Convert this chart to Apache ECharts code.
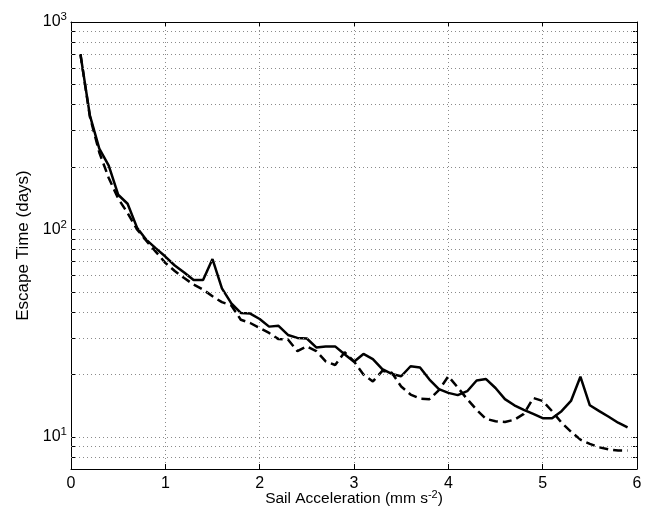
<!DOCTYPE html>
<html>
<head>
<meta charset="utf-8">
<script src="https://cdn.jsdelivr.net/npm/echarts@6/dist/echarts.min.js"></script>
<style>html,body{margin:0;padding:0;background:#fff;}#c{width:653px;height:521px;}</style>
</head>
<body>
<div id="c"></div>
<script>
const xValues = [0.1,0.2,0.3,0.4,0.5,0.6,0.7,0.8,0.9,1.0,
  1.1,1.2,1.3,1.4,1.5,1.6,1.7,1.8,1.9,2.0,
  2.1,2.2,2.3,2.4,2.5,2.6,2.7,2.8,2.9,3.0,
  3.1,3.2,3.3,3.4,3.5,3.6,3.7,3.8,3.9,4.0,
  4.1,4.2,4.3,4.4,4.5,4.6,4.7,4.8,4.9,5.0,
  5.1,5.2,5.3,5.4,5.5,5.6,5.7,5.8,5.9];
const solidTimes = [700,355,245,203,147,133,102,89,81,74,
  67,62,57,57,72,52,44,39.6,39.3,37,
  34,34.3,31,30,29.8,27,27.3,27.3,25,23,
  25.1,23.7,21.2,20.1,19.6,21.9,21.6,18.9,17,16.3,
  15.9,16.6,18.7,19,17.2,15.2,14.2,13.5,12.9,12.3,
  12.3,13.3,14.9,19.5,14.2,13.3,12.5,11.7,11.1];
const dashedTimes = [700,350,235,177,141,120,100,88,78,69,
  63,58.3,54.2,51.3,47.6,44.6,43,36.7,35.4,33.5,
  31.7,29.6,29.5,25.9,27.3,25.9,23.1,22.2,25.6,23.1,
  20,18.5,20.8,20.4,17.5,16,15.3,15.2,16.8,19.6,
  17.3,15.2,13.5,12.2,11.9,11.8,12.1,12.9,15.4,14.9,
  13.3,11.7,10.6,9.7,9.25,8.9,8.7,8.6,8.6];
const yGridValues = [8,9,10,20,30,40,50,60,70,80,90,100,200,300,400,500,600,700,800,900];
const yMajorLabels = {10:'1',100:'2',1000:'3'};
const xTitle = 'Sail Acceleration (mm s';
const xTitleSup = '-2';
const yTitle = 'Escape Time (days)';

const FONT = 'Liberation Sans, Arial, Helvetica, sans-serif';
const chart = echarts.init(document.getElementById('c'), null, {renderer:'canvas'});
const gridLine = {color:'#8a8a8a', width:1, type:[1,3]};

const option = {
  animation:false,
  backgroundColor:'#fff',
  grid:{left:71, top:22, right:16, bottom:52, containLabel:false},
  xAxis:[{
    type:'value', min:0, max:6, interval:1, position:'bottom',
    axisLine:{show:true, onZero:false, lineStyle:{color:'#000', width:1}},
    axisTick:{show:true, inside:true, length:5, lineStyle:{color:'#000'}},
    axisLabel:{color:'#000', fontSize:16, fontFamily:FONT, margin:7},
    splitLine:{show:true, lineStyle:gridLine},
    name:'{t|' + xTitle + '}{s|' + xTitleSup + '}{t|)}',
    nameLocation:'middle', nameGap:20, nameMoveOverlap:false,
    nameTextStyle:{rich:{
      t:{fontSize:15.5, fontFamily:FONT, color:'#000'},
      s:{fontSize:11, fontFamily:FONT, color:'#000', padding:[0,0,9,0]}
    }}
  },{
    type:'value', min:0, max:6, interval:1, position:'top',
    axisLine:{show:true, onZero:false, lineStyle:{color:'#000', width:1}},
    axisTick:{show:true, inside:true, length:4, lineStyle:{color:'#000'}},
    axisLabel:{show:false}, splitLine:{show:false}
  }],
  yAxis:[{
    type:'log', logBase:10, min:7, max:1000, position:'left',
    axisLine:{show:true, onZero:false, lineStyle:{color:'#000', width:1}},
    axisTick:{show:true, inside:true, length:4, lineStyle:{color:'#000'}, customValues:yGridValues},
    axisLabel:{
      margin:4, fontFamily:FONT, color:'#000',
      customValues:[10,100,1000],
      formatter:function(v){
        const k = Math.round(v);
        return yMajorLabels[k] ? '{b|10}{s|' + yMajorLabels[k] + '}' : '';
      },
      rich:{
        b:{fontSize:16, fontFamily:FONT, color:'#000'},
        s:{fontSize:11.5, fontFamily:FONT, color:'#000', padding:[0,0,10,0]}
      }
    },
    splitLine:{show:false},
    name:yTitle, nameLocation:'middle', nameGap:39, nameRotate:90, nameMoveOverlap:false,
    nameTextStyle:{fontSize:17, fontFamily:FONT, color:'#000'}
  },{
    type:'log', logBase:10, min:7, max:1000, position:'right',
    axisLine:{show:true, onZero:false, lineStyle:{color:'#000', width:1}},
    axisTick:{show:true, inside:true, length:4, lineStyle:{color:'#000'}, customValues:yGridValues},
    axisLabel:{show:false}, splitLine:{show:false}
  }],
  series:[{
    type:'line', xAxisIndex:0, yAxisIndex:0,
    data:xValues.map((x,i)=>[x, solidTimes[i]]),
    showSymbol:false, symbol:'none', smooth:false, z:3,
    lineStyle:{color:'#000', width:2.5},
    markLine:{
      silent:true, symbol:'none', animation:false,
      label:{show:false},
      lineStyle:gridLine,
      data:yGridValues.map(v=>({yAxis:v}))
    }
  },{
    type:'line', xAxisIndex:0, yAxisIndex:0,
    data:xValues.map((x,i)=>[x, dashedTimes[i]]),
    showSymbol:false, symbol:'none', smooth:false, z:3,
    lineStyle:{color:'#000', width:2.5, type:[9,5]}
  }]
};
chart.setOption(option);
</script>
</body>
</html>
